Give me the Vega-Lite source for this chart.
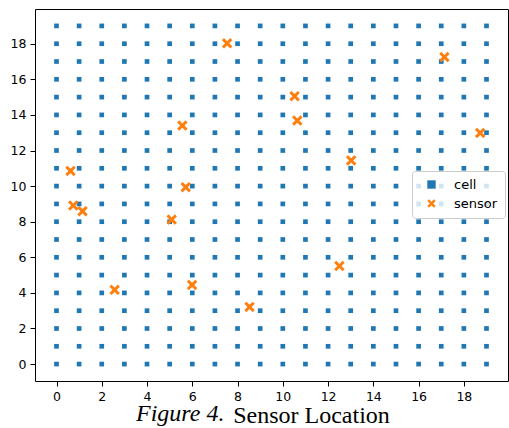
{
  "$schema": "https://vega.github.io/schema/vega-lite/v6.json",
  "width": 473,
  "height": 372,
  "autosize": {"type": "none"},
  "padding": {"left": 35, "top": 9, "right": 1, "bottom": 47},
  "background": "white",
  "config": {
    "view": {"stroke": "black", "strokeWidth": 1},
    "axis": {"labelFont": "DejaVu Sans", "labelFontSize": 12.5, "labelColor": "black", "tickColor": "black", "tickSize": 5, "grid": false, "domain": false}
  },
  "title": {
    "text": "Figure 4.",
    "orient": "bottom",
    "anchor": "start",
    "frame": "group",
    "font": "Liberation Serif",
    "fontStyle": "italic",
    "fontWeight": "normal",
    "fontSize": 24,
    "color": "black",
    "baseline": "alphabetic",
    "dx": 101,
    "offset": -6
  },
  "data": {"values": [
    {"x":0,"y":0,"type":"cell"},{"x":1,"y":0,"type":"cell"},{"x":2,"y":0,"type":"cell"},{"x":3,"y":0,"type":"cell"},{"x":4,"y":0,"type":"cell"},{"x":5,"y":0,"type":"cell"},{"x":6,"y":0,"type":"cell"},{"x":7,"y":0,"type":"cell"},{"x":8,"y":0,"type":"cell"},{"x":9,"y":0,"type":"cell"},{"x":10,"y":0,"type":"cell"},{"x":11,"y":0,"type":"cell"},{"x":12,"y":0,"type":"cell"},{"x":13,"y":0,"type":"cell"},{"x":14,"y":0,"type":"cell"},{"x":15,"y":0,"type":"cell"},{"x":16,"y":0,"type":"cell"},{"x":17,"y":0,"type":"cell"},{"x":18,"y":0,"type":"cell"},{"x":19,"y":0,"type":"cell"},
    {"x":0,"y":1,"type":"cell"},{"x":1,"y":1,"type":"cell"},{"x":2,"y":1,"type":"cell"},{"x":3,"y":1,"type":"cell"},{"x":4,"y":1,"type":"cell"},{"x":5,"y":1,"type":"cell"},{"x":6,"y":1,"type":"cell"},{"x":7,"y":1,"type":"cell"},{"x":8,"y":1,"type":"cell"},{"x":9,"y":1,"type":"cell"},{"x":10,"y":1,"type":"cell"},{"x":11,"y":1,"type":"cell"},{"x":12,"y":1,"type":"cell"},{"x":13,"y":1,"type":"cell"},{"x":14,"y":1,"type":"cell"},{"x":15,"y":1,"type":"cell"},{"x":16,"y":1,"type":"cell"},{"x":17,"y":1,"type":"cell"},{"x":18,"y":1,"type":"cell"},{"x":19,"y":1,"type":"cell"},
    {"x":0,"y":2,"type":"cell"},{"x":1,"y":2,"type":"cell"},{"x":2,"y":2,"type":"cell"},{"x":3,"y":2,"type":"cell"},{"x":4,"y":2,"type":"cell"},{"x":5,"y":2,"type":"cell"},{"x":6,"y":2,"type":"cell"},{"x":7,"y":2,"type":"cell"},{"x":8,"y":2,"type":"cell"},{"x":9,"y":2,"type":"cell"},{"x":10,"y":2,"type":"cell"},{"x":11,"y":2,"type":"cell"},{"x":12,"y":2,"type":"cell"},{"x":13,"y":2,"type":"cell"},{"x":14,"y":2,"type":"cell"},{"x":15,"y":2,"type":"cell"},{"x":16,"y":2,"type":"cell"},{"x":17,"y":2,"type":"cell"},{"x":18,"y":2,"type":"cell"},{"x":19,"y":2,"type":"cell"},
    {"x":0,"y":3,"type":"cell"},{"x":1,"y":3,"type":"cell"},{"x":2,"y":3,"type":"cell"},{"x":3,"y":3,"type":"cell"},{"x":4,"y":3,"type":"cell"},{"x":5,"y":3,"type":"cell"},{"x":6,"y":3,"type":"cell"},{"x":7,"y":3,"type":"cell"},{"x":8,"y":3,"type":"cell"},{"x":9,"y":3,"type":"cell"},{"x":10,"y":3,"type":"cell"},{"x":11,"y":3,"type":"cell"},{"x":12,"y":3,"type":"cell"},{"x":13,"y":3,"type":"cell"},{"x":14,"y":3,"type":"cell"},{"x":15,"y":3,"type":"cell"},{"x":16,"y":3,"type":"cell"},{"x":17,"y":3,"type":"cell"},{"x":18,"y":3,"type":"cell"},{"x":19,"y":3,"type":"cell"},
    {"x":0,"y":4,"type":"cell"},{"x":1,"y":4,"type":"cell"},{"x":2,"y":4,"type":"cell"},{"x":3,"y":4,"type":"cell"},{"x":4,"y":4,"type":"cell"},{"x":5,"y":4,"type":"cell"},{"x":6,"y":4,"type":"cell"},{"x":7,"y":4,"type":"cell"},{"x":8,"y":4,"type":"cell"},{"x":9,"y":4,"type":"cell"},{"x":10,"y":4,"type":"cell"},{"x":11,"y":4,"type":"cell"},{"x":12,"y":4,"type":"cell"},{"x":13,"y":4,"type":"cell"},{"x":14,"y":4,"type":"cell"},{"x":15,"y":4,"type":"cell"},{"x":16,"y":4,"type":"cell"},{"x":17,"y":4,"type":"cell"},{"x":18,"y":4,"type":"cell"},{"x":19,"y":4,"type":"cell"},
    {"x":0,"y":5,"type":"cell"},{"x":1,"y":5,"type":"cell"},{"x":2,"y":5,"type":"cell"},{"x":3,"y":5,"type":"cell"},{"x":4,"y":5,"type":"cell"},{"x":5,"y":5,"type":"cell"},{"x":6,"y":5,"type":"cell"},{"x":7,"y":5,"type":"cell"},{"x":8,"y":5,"type":"cell"},{"x":9,"y":5,"type":"cell"},{"x":10,"y":5,"type":"cell"},{"x":11,"y":5,"type":"cell"},{"x":12,"y":5,"type":"cell"},{"x":13,"y":5,"type":"cell"},{"x":14,"y":5,"type":"cell"},{"x":15,"y":5,"type":"cell"},{"x":16,"y":5,"type":"cell"},{"x":17,"y":5,"type":"cell"},{"x":18,"y":5,"type":"cell"},{"x":19,"y":5,"type":"cell"},
    {"x":0,"y":6,"type":"cell"},{"x":1,"y":6,"type":"cell"},{"x":2,"y":6,"type":"cell"},{"x":3,"y":6,"type":"cell"},{"x":4,"y":6,"type":"cell"},{"x":5,"y":6,"type":"cell"},{"x":6,"y":6,"type":"cell"},{"x":7,"y":6,"type":"cell"},{"x":8,"y":6,"type":"cell"},{"x":9,"y":6,"type":"cell"},{"x":10,"y":6,"type":"cell"},{"x":11,"y":6,"type":"cell"},{"x":12,"y":6,"type":"cell"},{"x":13,"y":6,"type":"cell"},{"x":14,"y":6,"type":"cell"},{"x":15,"y":6,"type":"cell"},{"x":16,"y":6,"type":"cell"},{"x":17,"y":6,"type":"cell"},{"x":18,"y":6,"type":"cell"},{"x":19,"y":6,"type":"cell"},
    {"x":0,"y":7,"type":"cell"},{"x":1,"y":7,"type":"cell"},{"x":2,"y":7,"type":"cell"},{"x":3,"y":7,"type":"cell"},{"x":4,"y":7,"type":"cell"},{"x":5,"y":7,"type":"cell"},{"x":6,"y":7,"type":"cell"},{"x":7,"y":7,"type":"cell"},{"x":8,"y":7,"type":"cell"},{"x":9,"y":7,"type":"cell"},{"x":10,"y":7,"type":"cell"},{"x":11,"y":7,"type":"cell"},{"x":12,"y":7,"type":"cell"},{"x":13,"y":7,"type":"cell"},{"x":14,"y":7,"type":"cell"},{"x":15,"y":7,"type":"cell"},{"x":16,"y":7,"type":"cell"},{"x":17,"y":7,"type":"cell"},{"x":18,"y":7,"type":"cell"},{"x":19,"y":7,"type":"cell"},
    {"x":0,"y":8,"type":"cell"},{"x":1,"y":8,"type":"cell"},{"x":2,"y":8,"type":"cell"},{"x":3,"y":8,"type":"cell"},{"x":4,"y":8,"type":"cell"},{"x":5,"y":8,"type":"cell"},{"x":6,"y":8,"type":"cell"},{"x":7,"y":8,"type":"cell"},{"x":8,"y":8,"type":"cell"},{"x":9,"y":8,"type":"cell"},{"x":10,"y":8,"type":"cell"},{"x":11,"y":8,"type":"cell"},{"x":12,"y":8,"type":"cell"},{"x":13,"y":8,"type":"cell"},{"x":14,"y":8,"type":"cell"},{"x":15,"y":8,"type":"cell"},{"x":16,"y":8,"type":"cell"},{"x":17,"y":8,"type":"cell"},{"x":18,"y":8,"type":"cell"},{"x":19,"y":8,"type":"cell"},
    {"x":0,"y":9,"type":"cell"},{"x":1,"y":9,"type":"cell"},{"x":2,"y":9,"type":"cell"},{"x":3,"y":9,"type":"cell"},{"x":4,"y":9,"type":"cell"},{"x":5,"y":9,"type":"cell"},{"x":6,"y":9,"type":"cell"},{"x":7,"y":9,"type":"cell"},{"x":8,"y":9,"type":"cell"},{"x":9,"y":9,"type":"cell"},{"x":10,"y":9,"type":"cell"},{"x":11,"y":9,"type":"cell"},{"x":12,"y":9,"type":"cell"},{"x":13,"y":9,"type":"cell"},{"x":14,"y":9,"type":"cell"},{"x":15,"y":9,"type":"cell"},{"x":16,"y":9,"type":"cell"},{"x":17,"y":9,"type":"cell"},{"x":18,"y":9,"type":"cell"},{"x":19,"y":9,"type":"cell"},
    {"x":0,"y":10,"type":"cell"},{"x":1,"y":10,"type":"cell"},{"x":2,"y":10,"type":"cell"},{"x":3,"y":10,"type":"cell"},{"x":4,"y":10,"type":"cell"},{"x":5,"y":10,"type":"cell"},{"x":6,"y":10,"type":"cell"},{"x":7,"y":10,"type":"cell"},{"x":8,"y":10,"type":"cell"},{"x":9,"y":10,"type":"cell"},{"x":10,"y":10,"type":"cell"},{"x":11,"y":10,"type":"cell"},{"x":12,"y":10,"type":"cell"},{"x":13,"y":10,"type":"cell"},{"x":14,"y":10,"type":"cell"},{"x":15,"y":10,"type":"cell"},{"x":16,"y":10,"type":"cell"},{"x":17,"y":10,"type":"cell"},{"x":18,"y":10,"type":"cell"},{"x":19,"y":10,"type":"cell"},
    {"x":0,"y":11,"type":"cell"},{"x":1,"y":11,"type":"cell"},{"x":2,"y":11,"type":"cell"},{"x":3,"y":11,"type":"cell"},{"x":4,"y":11,"type":"cell"},{"x":5,"y":11,"type":"cell"},{"x":6,"y":11,"type":"cell"},{"x":7,"y":11,"type":"cell"},{"x":8,"y":11,"type":"cell"},{"x":9,"y":11,"type":"cell"},{"x":10,"y":11,"type":"cell"},{"x":11,"y":11,"type":"cell"},{"x":12,"y":11,"type":"cell"},{"x":13,"y":11,"type":"cell"},{"x":14,"y":11,"type":"cell"},{"x":15,"y":11,"type":"cell"},{"x":16,"y":11,"type":"cell"},{"x":17,"y":11,"type":"cell"},{"x":18,"y":11,"type":"cell"},{"x":19,"y":11,"type":"cell"},
    {"x":0,"y":12,"type":"cell"},{"x":1,"y":12,"type":"cell"},{"x":2,"y":12,"type":"cell"},{"x":3,"y":12,"type":"cell"},{"x":4,"y":12,"type":"cell"},{"x":5,"y":12,"type":"cell"},{"x":6,"y":12,"type":"cell"},{"x":7,"y":12,"type":"cell"},{"x":8,"y":12,"type":"cell"},{"x":9,"y":12,"type":"cell"},{"x":10,"y":12,"type":"cell"},{"x":11,"y":12,"type":"cell"},{"x":12,"y":12,"type":"cell"},{"x":13,"y":12,"type":"cell"},{"x":14,"y":12,"type":"cell"},{"x":15,"y":12,"type":"cell"},{"x":16,"y":12,"type":"cell"},{"x":17,"y":12,"type":"cell"},{"x":18,"y":12,"type":"cell"},{"x":19,"y":12,"type":"cell"},
    {"x":0,"y":13,"type":"cell"},{"x":1,"y":13,"type":"cell"},{"x":2,"y":13,"type":"cell"},{"x":3,"y":13,"type":"cell"},{"x":4,"y":13,"type":"cell"},{"x":5,"y":13,"type":"cell"},{"x":6,"y":13,"type":"cell"},{"x":7,"y":13,"type":"cell"},{"x":8,"y":13,"type":"cell"},{"x":9,"y":13,"type":"cell"},{"x":10,"y":13,"type":"cell"},{"x":11,"y":13,"type":"cell"},{"x":12,"y":13,"type":"cell"},{"x":13,"y":13,"type":"cell"},{"x":14,"y":13,"type":"cell"},{"x":15,"y":13,"type":"cell"},{"x":16,"y":13,"type":"cell"},{"x":17,"y":13,"type":"cell"},{"x":18,"y":13,"type":"cell"},{"x":19,"y":13,"type":"cell"},
    {"x":0,"y":14,"type":"cell"},{"x":1,"y":14,"type":"cell"},{"x":2,"y":14,"type":"cell"},{"x":3,"y":14,"type":"cell"},{"x":4,"y":14,"type":"cell"},{"x":5,"y":14,"type":"cell"},{"x":6,"y":14,"type":"cell"},{"x":7,"y":14,"type":"cell"},{"x":8,"y":14,"type":"cell"},{"x":9,"y":14,"type":"cell"},{"x":10,"y":14,"type":"cell"},{"x":11,"y":14,"type":"cell"},{"x":12,"y":14,"type":"cell"},{"x":13,"y":14,"type":"cell"},{"x":14,"y":14,"type":"cell"},{"x":15,"y":14,"type":"cell"},{"x":16,"y":14,"type":"cell"},{"x":17,"y":14,"type":"cell"},{"x":18,"y":14,"type":"cell"},{"x":19,"y":14,"type":"cell"},
    {"x":0,"y":15,"type":"cell"},{"x":1,"y":15,"type":"cell"},{"x":2,"y":15,"type":"cell"},{"x":3,"y":15,"type":"cell"},{"x":4,"y":15,"type":"cell"},{"x":5,"y":15,"type":"cell"},{"x":6,"y":15,"type":"cell"},{"x":7,"y":15,"type":"cell"},{"x":8,"y":15,"type":"cell"},{"x":9,"y":15,"type":"cell"},{"x":10,"y":15,"type":"cell"},{"x":11,"y":15,"type":"cell"},{"x":12,"y":15,"type":"cell"},{"x":13,"y":15,"type":"cell"},{"x":14,"y":15,"type":"cell"},{"x":15,"y":15,"type":"cell"},{"x":16,"y":15,"type":"cell"},{"x":17,"y":15,"type":"cell"},{"x":18,"y":15,"type":"cell"},{"x":19,"y":15,"type":"cell"},
    {"x":0,"y":16,"type":"cell"},{"x":1,"y":16,"type":"cell"},{"x":2,"y":16,"type":"cell"},{"x":3,"y":16,"type":"cell"},{"x":4,"y":16,"type":"cell"},{"x":5,"y":16,"type":"cell"},{"x":6,"y":16,"type":"cell"},{"x":7,"y":16,"type":"cell"},{"x":8,"y":16,"type":"cell"},{"x":9,"y":16,"type":"cell"},{"x":10,"y":16,"type":"cell"},{"x":11,"y":16,"type":"cell"},{"x":12,"y":16,"type":"cell"},{"x":13,"y":16,"type":"cell"},{"x":14,"y":16,"type":"cell"},{"x":15,"y":16,"type":"cell"},{"x":16,"y":16,"type":"cell"},{"x":17,"y":16,"type":"cell"},{"x":18,"y":16,"type":"cell"},{"x":19,"y":16,"type":"cell"},
    {"x":0,"y":17,"type":"cell"},{"x":1,"y":17,"type":"cell"},{"x":2,"y":17,"type":"cell"},{"x":3,"y":17,"type":"cell"},{"x":4,"y":17,"type":"cell"},{"x":5,"y":17,"type":"cell"},{"x":6,"y":17,"type":"cell"},{"x":7,"y":17,"type":"cell"},{"x":8,"y":17,"type":"cell"},{"x":9,"y":17,"type":"cell"},{"x":10,"y":17,"type":"cell"},{"x":11,"y":17,"type":"cell"},{"x":12,"y":17,"type":"cell"},{"x":13,"y":17,"type":"cell"},{"x":14,"y":17,"type":"cell"},{"x":15,"y":17,"type":"cell"},{"x":16,"y":17,"type":"cell"},{"x":17,"y":17,"type":"cell"},{"x":18,"y":17,"type":"cell"},{"x":19,"y":17,"type":"cell"},
    {"x":0,"y":18,"type":"cell"},{"x":1,"y":18,"type":"cell"},{"x":2,"y":18,"type":"cell"},{"x":3,"y":18,"type":"cell"},{"x":4,"y":18,"type":"cell"},{"x":5,"y":18,"type":"cell"},{"x":6,"y":18,"type":"cell"},{"x":7,"y":18,"type":"cell"},{"x":8,"y":18,"type":"cell"},{"x":9,"y":18,"type":"cell"},{"x":10,"y":18,"type":"cell"},{"x":11,"y":18,"type":"cell"},{"x":12,"y":18,"type":"cell"},{"x":13,"y":18,"type":"cell"},{"x":14,"y":18,"type":"cell"},{"x":15,"y":18,"type":"cell"},{"x":16,"y":18,"type":"cell"},{"x":17,"y":18,"type":"cell"},{"x":18,"y":18,"type":"cell"},{"x":19,"y":18,"type":"cell"},
    {"x":0,"y":19,"type":"cell"},{"x":1,"y":19,"type":"cell"},{"x":2,"y":19,"type":"cell"},{"x":3,"y":19,"type":"cell"},{"x":4,"y":19,"type":"cell"},{"x":5,"y":19,"type":"cell"},{"x":6,"y":19,"type":"cell"},{"x":7,"y":19,"type":"cell"},{"x":8,"y":19,"type":"cell"},{"x":9,"y":19,"type":"cell"},{"x":10,"y":19,"type":"cell"},{"x":11,"y":19,"type":"cell"},{"x":12,"y":19,"type":"cell"},{"x":13,"y":19,"type":"cell"},{"x":14,"y":19,"type":"cell"},{"x":15,"y":19,"type":"cell"},{"x":16,"y":19,"type":"cell"},{"x":17,"y":19,"type":"cell"},{"x":18,"y":19,"type":"cell"},{"x":19,"y":19,"type":"cell"},
    {"x":7.54,"y":18.02,"type":"sensor"},
    {"x":17.14,"y":17.25,"type":"sensor"},
    {"x":10.52,"y":15.05,"type":"sensor"},
    {"x":5.56,"y":13.4,"type":"sensor"},
    {"x":10.64,"y":13.68,"type":"sensor"},
    {"x":18.72,"y":12.99,"type":"sensor"},
    {"x":13.02,"y":11.44,"type":"sensor"},
    {"x":0.62,"y":10.85,"type":"sensor"},
    {"x":5.71,"y":9.94,"type":"sensor"},
    {"x":0.74,"y":8.91,"type":"sensor"},
    {"x":1.15,"y":8.59,"type":"sensor"},
    {"x":5.09,"y":8.12,"type":"sensor"},
    {"x":12.5,"y":5.51,"type":"sensor"},
    {"x":5.99,"y":4.45,"type":"sensor"},
    {"x":2.57,"y":4.17,"type":"sensor"},
    {"x":8.53,"y":3.21,"type":"sensor"}
  ]},
  "mark": {"type": "point", "filled": true, "opacity": 1, "strokeWidth": 0},
  "encoding": {
    "x": {
      "field": "x", "type": "quantitative",
      "scale": {"domain": [-0.95, 19.95], "nice": false, "zero": false},
      "axis": {"values": [0,2,4,6,8,10,12,14,16,18], "labelPadding": 4, "title": "Sensor Location",
        "titleFont": "Liberation Serif", "titleFontSize": 24, "titleFontWeight": "normal", "titleColor": "black",
        "titleX": 276, "titleY": 41, "titleBaseline": "alphabetic", "titleAnchor": "middle", "titleAlign": "center"}
    },
    "y": {
      "field": "y", "type": "quantitative",
      "scale": {"domain": [-0.95, 19.95], "nice": false, "zero": false},
      "axis": {"values": [0,2,4,6,8,10,12,14,16,18], "labelPadding": 4, "title": null}
    },
    "color": {
      "field": "type", "type": "nominal",
      "scale": {"domain": ["cell", "sensor"], "range": ["#1f77b4", "#ff7f0e"]},
      "legend": {"title": null, "orient": "none", "legendX": 377, "legendY": 162,
        "fillColor": "rgba(255,255,255,0.8)", "strokeColor": "#cccccc", "cornerRadius": 3,
        "padding": 7, "labelFont": "DejaVu Sans", "labelFontSize": 13, "labelColor": "black",
        "labelOffset": 16, "rowPadding": 5, "symbolOffset": 6, "symbolSize": 70}
    },
    "shape": {
      "field": "type", "type": "nominal",
      "scale": {"domain": ["cell", "sensor"], "range": ["square", "M-0.6,-1L0,-0.4L0.6,-1L1,-0.6L0.4,0L1,0.6L0.6,1L0,0.4L-0.6,1L-1,0.6L-0.4,0L-1,-0.6Z"]}
    },
    "size": {
      "condition": {"test": "datum.type === 'sensor'", "value": 110},
      "value": 22
    }
  }
}
